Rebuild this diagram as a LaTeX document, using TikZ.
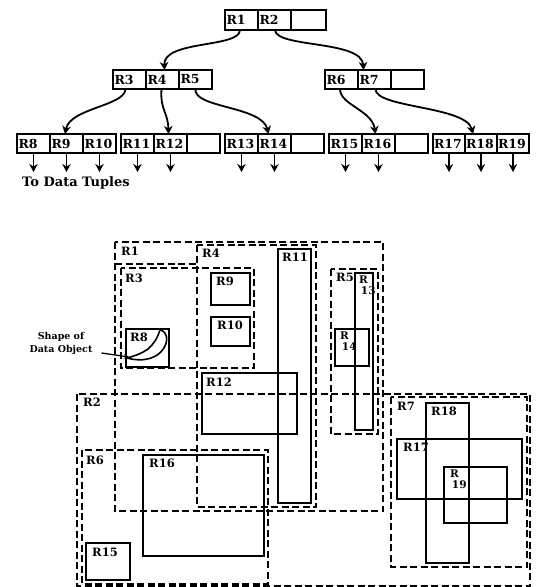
\documentclass[tikz,border=0pt]{standalone}
\usepackage{fontspec}
\setmainfont{DejaVu Serif}
\usetikzlibrary{arrows.meta,calc}
\begin{document}
\begin{tikzpicture}[x=1pt,y=-1pt,
  cell/.style={draw, line width=1.8pt, minimum height=19pt, minimum width=33pt,
    inner sep=0pt, outer sep=0pt, text width=30pt, align=left,
    font=\fontsize{12.5}{14}\selectfont\bfseries},
  tarrow/.style={line width=1.8pt, -{Stealth[length=8pt,width=8.5pt,inset=2.5pt]}},
  dbox/.style={line width=2.1pt, dash pattern=on 7pt off 3.5pt},
  sbox/.style={line width=1.6pt},
  lab/.style={anchor=north west, inner sep=0pt, font=\fontsize{11.5}{11.5}\selectfont\bfseries},
  lab2/.style={anchor=north west, inner sep=0pt, align=left,
    font=\fontsize{10.5}{10.5}\selectfont\bfseries}
]
\useasboundingbox (0,0) rectangle (538,587);

% ---------- tree: root ----------
\node[cell, minimum height=20pt, anchor=west] (r1) at (225,20) {R1};
\node[cell, minimum height=20pt, anchor=west] (r2) at (r1.east) {R2};
\node[cell, minimum height=20pt, minimum width=35pt, anchor=west] (r0e) at (r2.east) {};

% ---------- level 2 ----------
\node[cell, anchor=west] (r3) at (113,79.5) {R3};
\node[cell, anchor=west] (r4) at (r3.east) {R4};
\node[cell, anchor=west] (r5) at (r4.east) {R5};
\node[cell, anchor=west] (r6) at (325,79.5) {R6};
\node[cell, anchor=west] (r7) at (r6.east) {R7};
\node[cell, anchor=west] (r67e) at (r7.east) {};

% ---------- leaves ----------
\node[cell, anchor=west] (r8) at (17,143.5) {R8};
\node[cell, anchor=west] (r9) at (r8.east) {R9};
\node[cell, anchor=west] (r10) at (r9.east) {R10};
\node[cell, anchor=west] (r11) at (121,143.5) {R11};
\node[cell, anchor=west] (r12) at (r11.east) {R12};
\node[cell, anchor=west] (l2e) at (r12.east) {};
\node[cell, anchor=west] (r13) at (225,143.5) {R13};
\node[cell, anchor=west] (r14) at (r13.east) {R14};
\node[cell, anchor=west] (l3e) at (r14.east) {};
\node[cell, anchor=west] (r15) at (329,143.5) {R15};
\node[cell, anchor=west] (r16) at (r15.east) {R16};
\node[cell, anchor=west] (l4e) at (r16.east) {};
\node[cell, anchor=west, minimum width=32pt] (r17) at (433,143.5) {R17};
\node[cell, anchor=west, minimum width=32pt] (r18) at (r17.east) {R18};
\node[cell, anchor=west, minimum width=32pt] (r19) at (r18.east) {R19};

% ---------- tree connectors ----------
\draw[tarrow] ($(r1.south)+(-1.5,0)$) .. controls (240,48) and (163,40) .. ($(r4.north)+(2,0)$);
\draw[tarrow] ($(r2.south)+(0.5,0)$) .. controls (276,48) and (362,40) .. ($(r7.north)+(-11,0)$);
\draw[tarrow] ($(r3.south)+(-4,0)$) .. controls (125,106) and (70,108) .. ($(r9.north)+(-1.5,0)$);
\draw[tarrow] ($(r4.south)+(-1,0)$) .. controls (160,110) and (168,112) .. ($(r12.north)+(-2,0)$);
\draw[tarrow] (r5.south) .. controls (193,108) and (262,106) .. ($(r14.north)+(-6,0)$);
\draw[tarrow] ($(r6.south)+(-1.5,0)$) .. controls (340,105) and (372,110) .. ($(r16.north)+(-3,0)$);
\draw[tarrow] ($(r7.south)+(1,0)$) .. controls (375,108) and (466,106) .. ($(r18.north)+(-8,0)$);

\foreach \c in {r8,r9,r10,r11,r12,r13,r14,r15,r16,r17,r18,r19}
  \draw[tarrow] (\c.south) -- ++(0,19);

\node[anchor=west, inner sep=0pt, font=\fontsize{13}{14}\selectfont\bfseries] (tuples) at (22,183) {To Data Tuples};

% ---------- spatial layout: dashed regions ----------
\draw[dbox] (115,242) rectangle (383,511);
\draw[dbox] (115,264) -- (197,264);
\draw[dbox] (197,245) rectangle (316,507);
\draw[dbox] (121,268) rectangle (254,368);
\draw[dbox] (331,269) rectangle (378,434);
\draw[dbox] (77,394) rectangle (530,586);
\draw[dbox] (82,450) rectangle (268,584);
\draw[dbox] (391,397) rectangle (527,567);

% ---------- solid data rectangles ----------
\draw[sbox] (126,329) rectangle (169,367);
\draw[sbox] (211,273) rectangle (250,305);
\draw[sbox] (211,317) rectangle (250,346);
\draw[sbox] (278,249) rectangle (311,503);
\draw[sbox] (202,373) rectangle (297,434);
\draw[sbox] (355,273) rectangle (373,430);
\draw[sbox] (335,329) rectangle (369,366);
\draw[sbox] (86,543) rectangle (130,580);
\draw[sbox] (143,455) rectangle (264,556);
\draw[sbox] (397,439) rectangle (522,499);
\draw[sbox] (426,403) rectangle (469,563);
\draw[sbox] (444,467) rectangle (507,523);

% data object shape
\draw[sbox] (160,330) .. controls (154,348) and (145,353) .. (127,358);
\draw[sbox] (160,330) .. controls (175,333) and (165,368) .. (127,358);

% ---------- labels ----------
\node[lab] (l1) at (121,246.5) {R1};
\node[lab] (l4) at (202,249) {R4};
\node[lab] (l11) at (282,253) {R11};
\node[lab] (l3) at (125,274) {R3};
\node[lab] (l9) at (216,277) {R9};
\node[lab] (l10) at (217,321) {R10};
\node[lab] (l8) at (130,333) {R8};
\node[lab] (l12) at (206,378) {R12};
\node[lab] (l5) at (336,273) {R5};
\node[lab2] (l13) at (359,276) {R\\\,13};
\node[lab2] (l14) at (340,332) {R\\\,14};
\node[lab] (l2) at (83,398) {R2};
\node[lab] (l7) at (397,402) {R7};
\node[lab] (l18) at (431,407) {R18};
\node[lab] (l17) at (403,443) {R17};
\node[lab2] (l19) at (450,470) {R\\\,19};
\node[lab] (l6) at (86,456) {R6};
\node[lab] (l16) at (149,459) {R16};
\node[lab] (l15) at (92,548) {R15};

\node[align=center, inner sep=0pt, font=\fontsize{9.5}{13}\selectfont\bfseries] (shapetext) at (61,343) {Shape of\\Data Object};
\coordinate (objtip) at (129,357);
\draw[line width=1.3pt, -{Stealth[length=5pt,width=5pt]}] ($(shapetext.east)+(9,10)$) -- (objtip);
\end{tikzpicture}
\end{document}
